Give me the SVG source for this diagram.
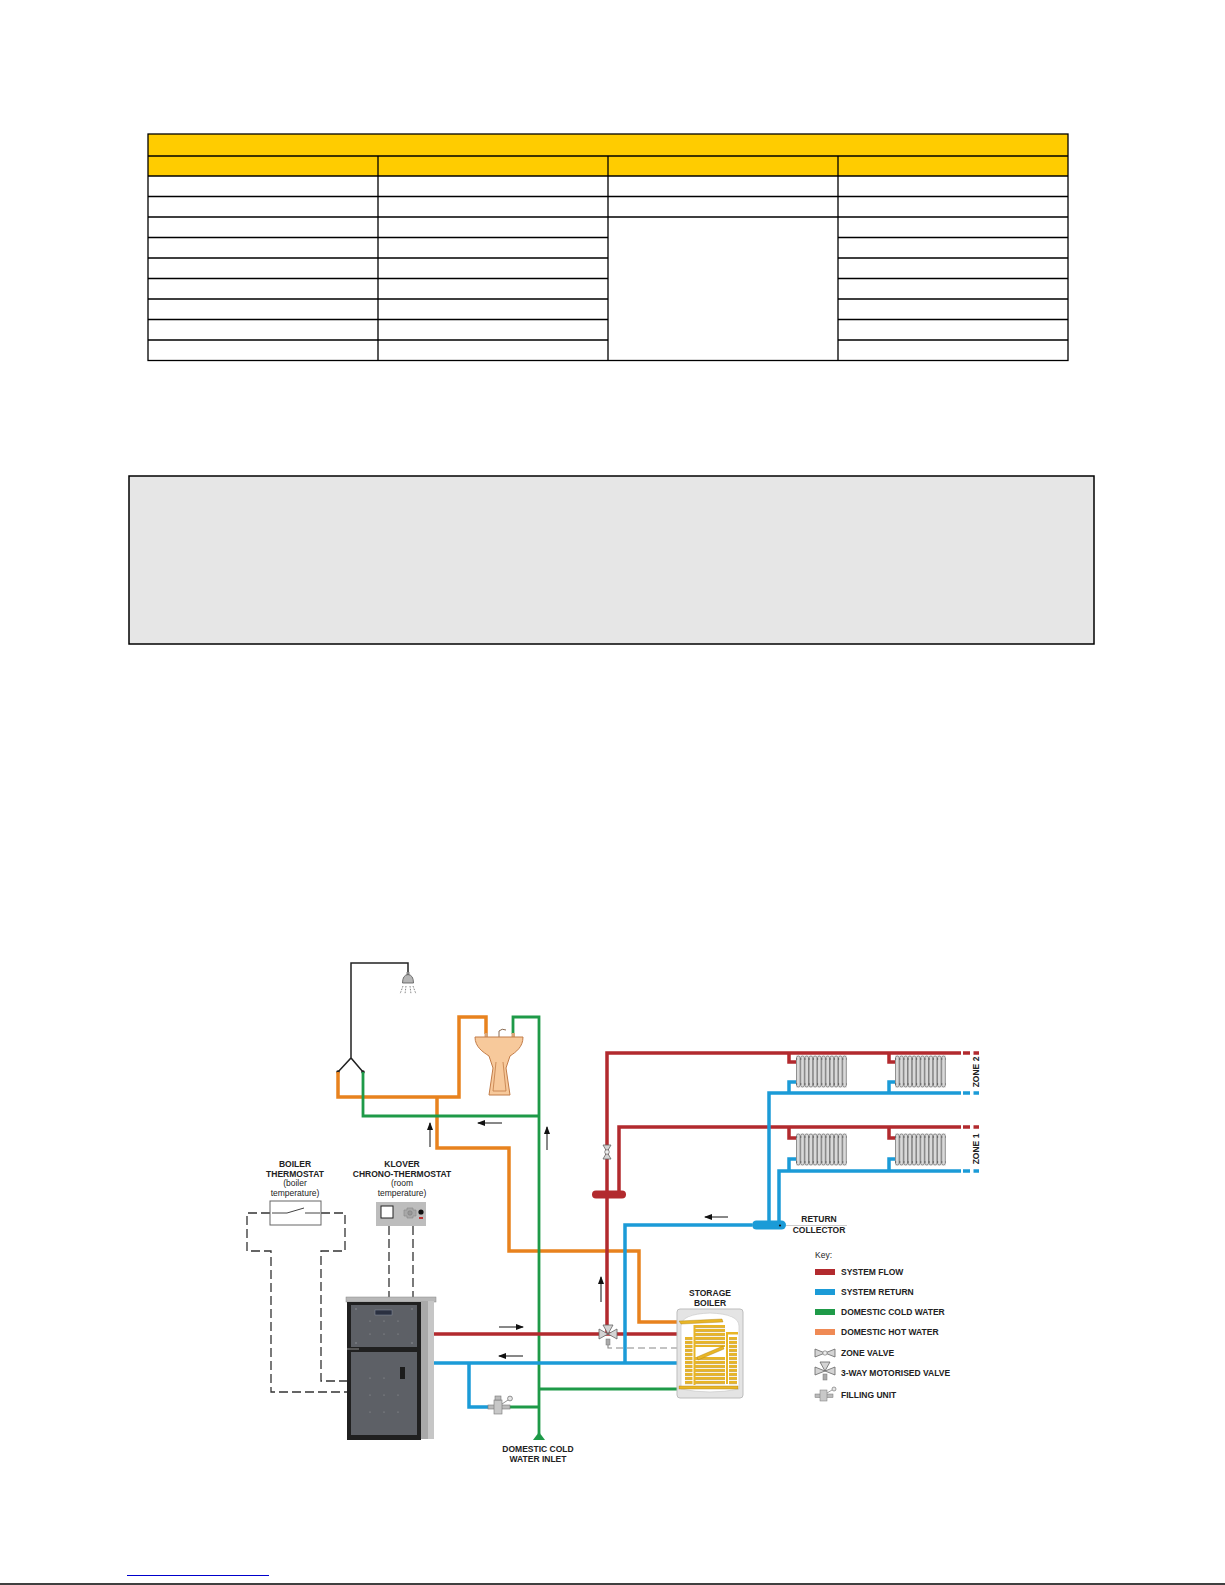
<svg xmlns="http://www.w3.org/2000/svg" width="1225" height="1585" viewBox="0 0 1225 1585">
<defs>
<style>
.tb{fill:none;stroke:#000;stroke-width:1.3}
.pipe{fill:none;stroke-linejoin:miter;stroke-linecap:butt}
.r{stroke:#b22a2e;stroke-width:3.5}
.b{stroke:#1b9bd7;stroke-width:3.5}
.g{stroke:#1e9a48;stroke-width:2.8}
.o{stroke:#e8821e;stroke-width:3.5}
.k{stroke:#222;stroke-width:1.5;fill:none}
.dash{fill:none;stroke:#333;stroke-width:1.3;stroke-dasharray:9 4}
.arr{fill:none;stroke:#111;stroke-width:1;marker-end:url(#ah)}
.lb{font-family:"Liberation Sans",Arial,sans-serif;font-size:8.5px;font-weight:bold;fill:#222}
.lr{font-family:"Liberation Sans",Arial,sans-serif;font-size:8.5px;fill:#222}
.valve{fill:#d4d4d4;stroke:#666;stroke-width:0.8}
</style>
<marker id="ah" viewBox="0 0 8 6" refX="7" refY="3" markerWidth="8" markerHeight="6" markerUnits="userSpaceOnUse" orient="auto">
<path d="M0,0 L8,3 L0,6 Z" fill="#111"/>
</marker>
<pattern id="coil" patternUnits="userSpaceOnUse" x="0" y="1" width="20" height="4">
<rect x="0" y="0" width="20" height="2.6" fill="#e8b526"/>
<rect x="0" y="2.6" width="20" height="0.5" fill="#a97d12"/>
</pattern>
<g id="rad">
<rect x="0" y="0" width="51" height="33" fill="#f2f2f2"/>
<rect x="0.5" y="1" width="3.6" height="31" rx="1.8" fill="#d9d9d9" stroke="#555" stroke-width="0.6"/>
<rect x="4.7" y="1" width="3.6" height="31" rx="1.8" fill="#d9d9d9" stroke="#555" stroke-width="0.6"/>
<rect x="8.9" y="1" width="3.6" height="31" rx="1.8" fill="#d9d9d9" stroke="#555" stroke-width="0.6"/>
<rect x="13.1" y="1" width="3.6" height="31" rx="1.8" fill="#d9d9d9" stroke="#555" stroke-width="0.6"/>
<rect x="17.3" y="1" width="3.6" height="31" rx="1.8" fill="#d9d9d9" stroke="#555" stroke-width="0.6"/>
<rect x="21.5" y="1" width="3.6" height="31" rx="1.8" fill="#d9d9d9" stroke="#555" stroke-width="0.6"/>
<rect x="25.7" y="1" width="3.6" height="31" rx="1.8" fill="#d9d9d9" stroke="#555" stroke-width="0.6"/>
<rect x="29.9" y="1" width="3.6" height="31" rx="1.8" fill="#d9d9d9" stroke="#555" stroke-width="0.6"/>
<rect x="34.1" y="1" width="3.6" height="31" rx="1.8" fill="#d9d9d9" stroke="#555" stroke-width="0.6"/>
<rect x="38.3" y="1" width="3.6" height="31" rx="1.8" fill="#d9d9d9" stroke="#555" stroke-width="0.6"/>
<rect x="42.5" y="1" width="3.6" height="31" rx="1.8" fill="#d9d9d9" stroke="#555" stroke-width="0.6"/>
<rect x="46.7" y="1" width="3.6" height="31" rx="1.8" fill="#d9d9d9" stroke="#555" stroke-width="0.6"/>
<path d="M0,4 H51 M0,29 H51" stroke="#333" stroke-width="0.8" stroke-dasharray="1.2 3"/>
</g>
</defs>

<rect width="1225" height="1585" fill="#fff"/>

<!-- table -->
<g id="table">
<rect x="148" y="134" width="920" height="42" fill="#ffcc00"/>
<rect class="tb" x="148" y="134" width="920" height="226.5"/>
<path class="tb" d="M148,156 H1068 M148,176 H1068 M148,196.5 H1068 M148,217 H1068 M148,237.5 H608 M838,237.5 H1068 M148,258 H608 M838,258 H1068 M148,278.5 H608 M838,278.5 H1068 M148,299 H608 M838,299 H1068 M148,319.5 H608 M838,319.5 H1068 M148,340 H608 M838,340 H1068"/>
<path class="tb" d="M378,156 V360.5 M608,156 V360.5 M838,156 V360.5"/>
</g>

<!-- grey note box -->
<g id="notebox">
<rect x="129" y="476" width="965" height="168" fill="#e6e6e6" stroke="#000" stroke-width="1.5"/>
</g>

<!-- footer -->
<g id="footer">
<line x1="127" y1="1575.5" x2="269" y2="1575.5" stroke="#0000cc" stroke-width="1.2"/>
<line x1="0" y1="1584" x2="1225" y2="1584" stroke="#000" stroke-width="1.5"/>
</g>

<!-- connectors: pipes, wires, flow arrows -->
<g id="connectors">
<path class="k" d="M338,1072 L351,1058 L363,1072 M351,1058 V963 H408 V974"/>
<circle cx="338" cy="1072" r="1.8" fill="#222"/>
<circle cx="363" cy="1072" r="1.8" fill="#222"/>
<path class="pipe o" d="M338,1072 V1097 H459 V1017 H486 V1034"/>
<path class="pipe o" d="M437,1097 V1148 H509 V1251 H639 V1322 H678"/>
<path class="pipe g" d="M363,1072 V1116 H539"/>
<path class="pipe g" d="M513,1034 V1017 H539 V1434"/>
<path class="pipe g" d="M539,1389 H678 M510,1407 H539"/>
<path class="pipe r" d="M434,1334 H678 M607,1334 V1053 H961 M619,1194 V1127 H961"/>
<path class="pipe r" d="M789,1053 V1062 H797 M889,1053 V1062 H896 M789,1127 V1138 H797 M889,1127 V1138 H896"/>
<path class="pipe r" d="M963,1053 H970 M973.5,1053 H979 M963,1127 H970 M973.5,1127 H979"/>
<path class="pipe b" d="M434,1363 H678 M469,1363 V1407 H489 M625,1363 V1225 H752 M769,1222 V1093 H961 M779,1222 V1171 H961"/>
<path class="pipe b" d="M789,1093 V1082 H797 M889,1093 V1082 H896 M789,1171 V1159 H797 M889,1171 V1159 H896"/>
<path class="pipe b" d="M963,1093 H970 M973.5,1093 H979 M963,1171 H970 M973.5,1171 H979"/>
<path class="dash" d="M270,1213 H247 V1251 H271 V1392 H347"/>
<path class="dash" d="M321,1213 H345 V1251 H321 V1381 H347"/>
<path class="dash" d="M389,1226 V1297 M413,1226 V1297"/>
<path d="M608,1345 V1348 H678" fill="none" stroke="#888" stroke-width="1.1" stroke-dasharray="7 4"/>
<path class="arr" d="M430,1147 V1123"/>
<path class="arr" d="M502,1123 H478"/>
<path class="arr" d="M547,1150 V1127"/>
<path class="arr" d="M728,1217 H705"/>
<path class="arr" d="M601,1302 V1277"/>
<path class="arr" d="M499,1327 H523"/>
<path class="arr" d="M523,1356 H499"/>
<path d="M786,1225.5 H847" stroke="#aaa" stroke-width="0.6"/>
</g>

<!-- shower -->
<g id="shower">
<rect x="406.5" y="972" width="3" height="3" fill="#888"/>
<path d="M402.5,983 Q402.5,975 408,974.5 Q413.5,975 413.5,983 Z" fill="#b5b5b5" stroke="#555" stroke-width="0.8"/>
<path d="M403,986 L400,994 M406,986 L405,994 M410,986 L411,994 M413,986 L416,994" stroke="#555" stroke-width="0.7" stroke-dasharray="1.6 1.2" fill="none"/>
</g>

<!-- sink -->
<g id="sink">
<rect x="484.5" y="1033" width="3.5" height="4" fill="#d9a679"/>
<rect x="511.5" y="1033" width="3.5" height="4" fill="#d9a679"/>
<path d="M499,1037 V1031 Q502,1028 506,1030" fill="none" stroke="#8a6a50" stroke-width="1"/>
<path d="M475,1037 H523 C523,1047 516,1052 510,1056 L506,1068 L510,1095 H489 L493,1068 L489,1056 C483,1052 475,1047 475,1037 Z" fill="#f7c99b" stroke="#c27c48" stroke-width="1"/>
<path d="M496,1062 L493,1091 H506 L503,1062" fill="none" stroke="#c27c48" stroke-width="0.8"/>
</g>

<!-- boiler thermostat -->
<g id="boiler-thermostat">
<text class="lb" x="295" y="1167" text-anchor="middle">BOILER</text>
<text class="lb" x="295" y="1176.5" text-anchor="middle">THERMOSTAT</text>
<text class="lr" x="295" y="1186" text-anchor="middle">(boiler</text>
<text class="lr" x="295" y="1195.5" text-anchor="middle">temperature)</text>
<rect x="270" y="1201" width="51" height="24" fill="#fff" stroke="#666" stroke-width="1"/>
<path d="M272,1213 H287 L304,1208 M305,1213 H320" fill="none" stroke="#444" stroke-width="1"/>
</g>

<!-- klover chrono-thermostat -->
<g id="klover">
<text class="lb" x="402" y="1167" text-anchor="middle">KLOVER</text>
<text class="lb" x="402" y="1176.5" text-anchor="middle">CHRONO-THERMOSTAT</text>
<text class="lr" x="402" y="1186" text-anchor="middle">(room</text>
<text class="lr" x="402" y="1195.5" text-anchor="middle">temperature)</text>
<rect x="376" y="1202" width="50" height="24" fill="#bdbdbd"/>
<rect x="381" y="1206" width="12" height="12" fill="#fff" stroke="#222" stroke-width="1"/>
<path d="M407,1208 H413 V1210 H416 V1216 H413 V1218 H407 V1216 H404 V1210 H407 Z" fill="#a8a8a8" stroke="#888" stroke-width="0.6"/>
<circle cx="410" cy="1213" r="2.2" fill="#999" stroke="#777" stroke-width="0.5"/>
<circle cx="421" cy="1212" r="2.6" fill="#111"/>
<rect x="419" y="1217" width="4" height="2" fill="#b33"/>
</g>

<!-- boiler -->
<g id="boiler">
<rect x="346" y="1297" width="90" height="5" fill="#b8b8b8" stroke="#888" stroke-width="0.5"/>
<rect x="420" y="1301" width="14" height="138" fill="#a9a9a9"/>
<rect x="428" y="1301" width="6" height="138" fill="#c6c6c6"/>
<rect x="347" y="1302" width="74" height="138" fill="#202020"/>
<rect x="351" y="1305" width="66" height="42" fill="#5d6066"/>
<rect x="351" y="1352" width="66" height="83" fill="#5d6066"/>
<rect x="375" y="1310" width="17" height="5" fill="#2a3040" stroke="#8a90a0" stroke-width="0.5"/>
<rect x="400" y="1367" width="5" height="12" fill="#1c1c1c"/>
<rect x="347" y="1348" width="12" height="2" fill="#555"/>
<g fill="#9a9ca0">
<circle cx="356" cy="1309" r="0.7"/><circle cx="412" cy="1309" r="0.7"/><circle cx="356" cy="1343" r="0.7"/><circle cx="412" cy="1343" r="0.7"/>
<circle cx="370" cy="1321" r="0.6"/><circle cx="384" cy="1321" r="0.6"/><circle cx="398" cy="1321" r="0.6"/>
<circle cx="370" cy="1334" r="0.6"/><circle cx="384" cy="1334" r="0.6"/><circle cx="398" cy="1334" r="0.6"/>
<circle cx="370" cy="1378" r="0.6"/><circle cx="384" cy="1378" r="0.6"/>
<circle cx="370" cy="1395" r="0.6"/><circle cx="384" cy="1395" r="0.6"/><circle cx="398" cy="1395" r="0.6"/>
<circle cx="370" cy="1412" r="0.6"/><circle cx="384" cy="1412" r="0.6"/><circle cx="398" cy="1412" r="0.6"/>
</g>
</g>

<!-- filling unit -->
<g id="filling-unit">
<rect x="488" y="1405" width="22" height="4" fill="#bbb" stroke="#777" stroke-width="0.6"/>
<rect x="494" y="1400" width="8" height="14" fill="#c8c8c8" stroke="#777" stroke-width="0.6"/>
<rect x="495" y="1396" width="6" height="4" fill="#bbb" stroke="#777" stroke-width="0.6"/>
<path d="M502,1404 L508,1400" stroke="#777" stroke-width="0.8"/>
<circle cx="510" cy="1398.5" r="2.4" fill="#e6e6e6" stroke="#666" stroke-width="0.7"/>
</g>

<!-- domestic cold water inlet -->
<g id="inlet">
<path d="M539,1432 L545,1440 H533 Z" fill="#1e9a48"/>
<text class="lb" x="538" y="1452" text-anchor="middle">DOMESTIC COLD</text>
<text class="lb" x="538" y="1462" text-anchor="middle">WATER INLET</text>
</g>

<!-- zone valve -->
<g id="zone-valve">
<path class="valve" d="M603,1145 H611 L607,1152 Z M603,1159 H611 L607,1152 Z"/>
<circle cx="607" cy="1152" r="2.3" fill="#eee" stroke="#666" stroke-width="0.7"/>
</g>

<!-- flow collector -->
<g id="flow-collector">
<rect x="592" y="1190.5" width="34" height="8" rx="4" fill="#b22a2e"/>
</g>

<!-- return collector -->
<g id="return-collector">
<rect x="752" y="1220.5" width="34" height="9" rx="4.5" fill="#1b9bd7"/>
<circle cx="780" cy="1225.5" r="1.1" fill="#111"/>
<text class="lb" x="819" y="1222" text-anchor="middle">RETURN</text>
<text class="lb" x="819" y="1232.5" text-anchor="middle">COLLECTOR</text>
</g>

<!-- 3-way valve -->
<g id="three-way-valve">
<path class="valve" d="M599,1329 L608,1334 L599,1339 Z M617,1329 L608,1334 L617,1339 Z M603,1325 H613 L608,1334 Z"/>
<rect x="606" y="1339" width="4" height="6" fill="#aaa" stroke="#777" stroke-width="0.5"/>
</g>

<!-- radiators -->
<g id="radiator-z2a"><use href="#rad" x="796" y="1055"/></g>
<g id="radiator-z2b"><use href="#rad" x="895" y="1055"/></g>
<g id="radiator-z1a"><use href="#rad" x="796" y="1133"/></g>
<g id="radiator-z1b"><use href="#rad" x="895" y="1133"/></g>
<g id="zone-labels">
<text class="lb" transform="translate(979,1072) rotate(-90)" text-anchor="middle">ZONE 2</text>
<text class="lb" transform="translate(979,1149) rotate(-90)" text-anchor="middle">ZONE 1</text>
</g>

<!-- storage boiler -->
<g id="storage-boiler">
<text class="lb" x="710" y="1296" text-anchor="middle">STORAGE</text>
<text class="lb" x="710" y="1306" text-anchor="middle">BOILER</text>
<rect x="677" y="1309" width="66" height="89" rx="3" fill="#e4e4e4" stroke="#bdbdbd" stroke-width="1"/>
<path d="M681,1326 Q681,1314 710,1313 Q739,1314 739,1326 V1389 Q710,1395 681,1389 Z" fill="#fff" stroke="#cfcfcf" stroke-width="0.8"/>
<path d="M679,1321 L722,1319 L723,1322 L681,1324 Z" fill="#e8b526" stroke="#a97d12" stroke-width="0.4"/>
<rect x="695" y="1325" width="30" height="22" fill="url(#coil)"/>
<rect x="695" y="1357" width="30" height="28" fill="url(#coil)"/>
<path d="M697,1357 L723,1346 L724,1349 L698,1360 Z" fill="#e8b526" stroke="#a97d12" stroke-width="0.4"/>
<rect x="685" y="1337" width="7.5" height="48" fill="url(#coil)"/>
<rect x="729" y="1337" width="8" height="48" fill="url(#coil)"/>
<rect x="693.5" y="1325" width="2" height="60" fill="#e8b526"/>
<rect x="726" y="1332" width="2" height="52" fill="#e8b526"/>
<rect x="727" y="1332" width="11" height="2.5" fill="#e8b526"/>
<rect x="679" y="1386" width="59" height="3" fill="#e8b526" stroke="#a97d12" stroke-width="0.4"/>
</g>

<!-- key -->
<g id="key">
<text class="lr" x="815" y="1258">Key:</text>
<rect x="815" y="1269" width="20" height="6" fill="#b22a2e"/>
<text class="lb" x="841" y="1275">SYSTEM FLOW</text>
<rect x="815" y="1289" width="20" height="6" fill="#1b9bd7"/>
<text class="lb" x="841" y="1295">SYSTEM RETURN</text>
<rect x="815" y="1309" width="20" height="6" fill="#1e9a48"/>
<text class="lb" x="841" y="1315">DOMESTIC COLD WATER</text>
<rect x="815" y="1329" width="20" height="6" fill="#ef8a55"/>
<text class="lb" x="841" y="1335">DOMESTIC HOT WATER</text>
<path class="valve" d="M815,1349 L825,1353 L815,1357 Z M835,1349 L825,1353 L835,1357 Z"/>
<circle cx="825" cy="1353" r="2.2" fill="#eee" stroke="#666" stroke-width="0.6"/>
<text class="lb" x="841" y="1356">ZONE VALVE</text>
<path class="valve" d="M815,1367 L825,1371 L815,1375 Z M835,1367 L825,1371 L835,1375 Z M820,1362 H830 L825,1371 Z"/>
<rect x="823" y="1374" width="4" height="6" fill="#aaa" stroke="#777" stroke-width="0.5"/>
<text class="lb" x="841" y="1376">3-WAY MOTORISED VALVE</text>
<rect x="815" y="1394" width="18" height="3.5" fill="#bbb" stroke="#777" stroke-width="0.5"/>
<rect x="820" y="1390" width="7" height="11" fill="#c8c8c8" stroke="#777" stroke-width="0.5"/>
<path d="M827,1393 L832,1390" stroke="#777" stroke-width="0.7"/>
<circle cx="834" cy="1389" r="2" fill="#e6e6e6" stroke="#666" stroke-width="0.6"/>
<text class="lb" x="841" y="1398">FILLING UNIT</text>
</g>
</svg>
